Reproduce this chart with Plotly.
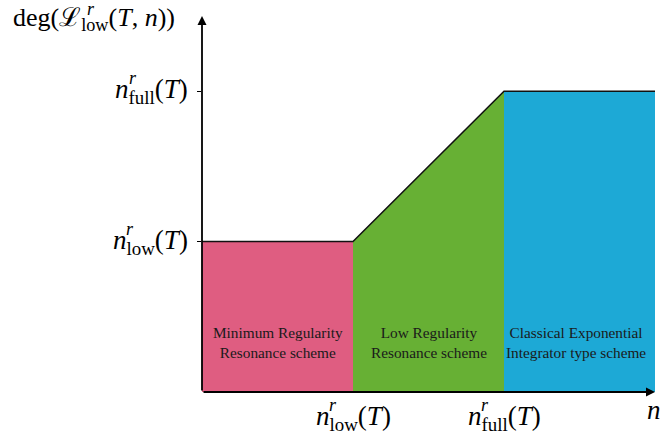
import plotly.graph_objects as go

# ---- data ----
region_edges = [0, 1, 2, 3]            # n axis: 0, n_low, n_full, end
region_top_left = [1, 1, 2]            # degree at left edge of each region
region_top_right = [1, 2, 2]           # degree at right edge of each region
region_colors = ["#DF5D81", "#67B034", "#1DA9D6"]
region_labels = ["Minimum Regularity<br>Resonance scheme",
                 "Low Regularity<br>Resonance scheme",
                 "Classical Exponential<br>Integrator type scheme"]
tick_positions = [1, 2]
tick_subs = ["low", "full"]
x_max = 3.0
y_max = 2.5

FONT = "Liberation Serif"
fig = go.Figure()

for i in range(3):
    x0, x1 = region_edges[i], region_edges[i + 1]
    fig.add_trace(go.Scatter(
        x=[x0, x1, x1, x0, x0], y=[0, 0, region_top_right[i], region_top_left[i], 0],
        mode="lines", fill="toself", fillcolor=region_colors[i],
        line=dict(width=0), hoverinfo="skip", showlegend=False))

top_x = region_edges
top_y = [region_top_left[0]] + region_top_right
fig.add_trace(go.Scatter(x=top_x, y=top_y, mode="lines",
                         line=dict(color="#111", width=1.5),
                         hoverinfo="skip", showlegend=False))

ann = []
for i in range(3):
    ann.append(dict(x=(region_edges[i] + region_edges[i + 1]) / 2, y=0.33,
                    xshift=-4 if i == 2 else 0,
                    text=region_labels[i], showarrow=False,
                    font=dict(family=FONT, size=15.3, color="#1a1a1a"),
                    xanchor="center", yanchor="middle"))

# axis arrows
ann.append(dict(x=x_max, y=0, ax=0, ay=0, xref="x", yref="y", axref="x", ayref="y",
                showarrow=True, arrowhead=2, arrowsize=1, arrowwidth=1.8,
                arrowcolor="black", text="", standoff=0))
ann.append(dict(x=0, y=y_max, ax=0, ay=0, xref="x", yref="y", axref="x", ayref="y",
                showarrow=True, arrowhead=2, arrowsize=1, arrowwidth=1.8,
                arrowcolor="black", text="", standoff=0))


def math_label(x, y, sub, dx, dy, xsup):
    # n_sub(T) with a superscript r stacked above the subscript
    ann.append(dict(x=x, y=y, xshift=dx, yshift=dy, xanchor="left", yanchor="middle",
                    text="<i>n</i><sub>%s</sub>(<i>T</i>)" % sub, showarrow=False,
                    font=dict(family=FONT, size=27, color="black")))
    ann.append(dict(x=x, y=y, xshift=xsup, yshift=dy + 13, xanchor="left",
                    yanchor="middle", text="<i>r</i>", showarrow=False,
                    font=dict(family=FONT, size=18, color="black")))


# x-axis labels
math_label(tick_positions[0], 0, tick_subs[0], -39, -26, -26)
math_label(tick_positions[1], 0, tick_subs[1], -38, -26, -25)
# y-axis labels
math_label(0, tick_positions[0], tick_subs[0], -91, 0, -78)
math_label(0, tick_positions[1], tick_subs[1], -89, 0, -75)

# y-axis title
ann.append(dict(x=0, y=y_max, xshift=-191, yshift=-3, xanchor="left", yanchor="middle",
                text="deg(ℒ<sub>low</sub>(<i>T</i>, <i>n</i>))", showarrow=False,
                font=dict(family=FONT, size=26, color="black")))
ann.append(dict(x=0, y=y_max, xshift=-117, yshift=7, xanchor="left", yanchor="middle",
                text="<i>r</i>", showarrow=False,
                font=dict(family=FONT, size=18, color="black")))
# x-axis title (n), partially cut off at the right edge
ann.append(dict(x=x_max, y=0, xshift=-10, yshift=-18, xanchor="left", yanchor="middle",
                text="<i>n</i>", showarrow=False,
                font=dict(family=FONT, size=27, color="black")))

fig.update_layout(
    width=660, height=439,
    margin=dict(l=202, r=5, t=16, b=47),
    plot_bgcolor="white", paper_bgcolor="white",
    annotations=ann,
    xaxis=dict(range=[0, x_max], showgrid=False, zeroline=False, showline=False,
               showticklabels=False, ticks="", fixedrange=True),
    yaxis=dict(range=[0, y_max], showgrid=False, zeroline=False, showline=False,
               tickvals=tick_positions, ticks="outside", ticklen=4, tickwidth=1.2,
               tickcolor="black", showticklabels=False, fixedrange=True),
)
fig.write_html("out.html", config={"displayModeBar": False},
               post_script="document.body.style.margin='0';document.body.style.overflow='hidden';")
